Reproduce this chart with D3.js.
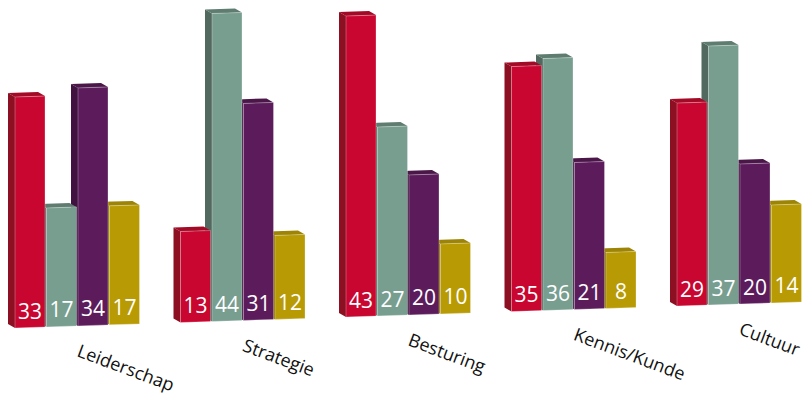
<!DOCTYPE html>
<html><head><meta charset="utf-8">
<script src="https://cdn.jsdelivr.net/npm/d3@7"></script>
<style>html,body{margin:0;padding:0;background:#fff;}svg{display:block;}</style>
</head><body>
<svg id="chart" width="805" height="406"></svg>
<script>
const categories = ["Leiderschap", "Strategie", "Besturing", "Kennis/Kunde", "Cultuur"];
const seriesNames = ["s1", "s2", "s3", "s4"];
const s1 = [33, 13, 43, 35, 29];
const s2 = [17, 44, 27, 36, 37];
const s3 = [34, 31, 20, 21, 20];
const s4 = [17, 12, 10, 8, 14];
const seriesValues = [s1, s2, s3, s4];
const frontColors = ["#c8062f", "#789e90", "#5c1c5c", "#b89a05"];
const sideColors  = ["#8c0f22", "#52695f", "#40123f", "#8c7503"];
const topColors   = ["#a30a26", "#5e7c70", "#4b1749", "#9d8404"];

const svg = d3.select("#chart");
const x0 = 15, groupStep = 165.5;
const xGroup = d3.scaleBand().domain(categories).range([x0, x0 + groupStep * categories.length]).padding(0);
const xInner = d3.scaleBand().domain(seriesNames).range([0, 124.5]).paddingInner(0.0476).paddingOuter(0);
const yH = d3.scaleLinear().domain([0, 44]).range([0, 308]);
const baseY = x => 328 - 0.0331 * (x - x0);
const dx = 7, dy = 4;

const bars = [];
categories.forEach((c, gi) => {
  seriesNames.forEach((s, si) => {
    bars.push({cat: c, si, v: seriesValues[si][gi]});
  });
});
// draw right to left (left bars occlude right ones)
bars.sort((a, b) => (xGroup(b.cat) + xInner(seriesNames[b.si])) - (xGroup(a.cat) + xInner(seriesNames[a.si])));

const w = xInner.bandwidth();
const line = pts => "M" + pts.map(p => p.join(",")).join("L") + "Z";
const g = svg.append("g");
bars.forEach(d => {
  const x = xGroup(d.cat) + xInner(seriesNames[d.si]);
  const h = yH(d.v);
  const bl = baseY(x), br = baseY(x + w);
  const bg = g.append("g");
  bg.append("path").attr("d", line([[x - dx, bl - h - dy], [x, bl - h], [x, bl], [x - dx, bl - dy]]))
    .attr("fill", sideColors[d.si]);
  bg.append("path").attr("d", line([[x - dx, bl - h - dy], [x + w - dx, br - h - dy], [x + w, br - h], [x, bl - h]]))
    .attr("fill", topColors[d.si]);
  bg.append("path").attr("d", line([[x, bl - h], [x + w, br - h], [x + w, br], [x, bl]]))
    .attr("fill", frontColors[d.si]).attr("stroke", "rgba(255,255,255,0.35)").attr("stroke-width", 0.8);
  bg.append("text").attr("x", x + w / 2).attr("y", baseY(x + w / 2) - 9)
    .attr("text-anchor", "middle").attr("fill", "#fff")
    .attr("font-family", "'Open Sans', sans-serif").attr("font-size", 21)
    .text(d.v);
});

categories.forEach(c => {
  const cx = xGroup(c) + 61;
  const cy = baseY(cx) + 30;
  svg.append("text").attr("transform", `translate(${cx},${cy}) rotate(20.5)`)
    .attr("font-family", "'Open Sans', sans-serif").attr("font-size", 18)
    .attr("fill", "#111").text(c);
});
</script>
</body></html>
